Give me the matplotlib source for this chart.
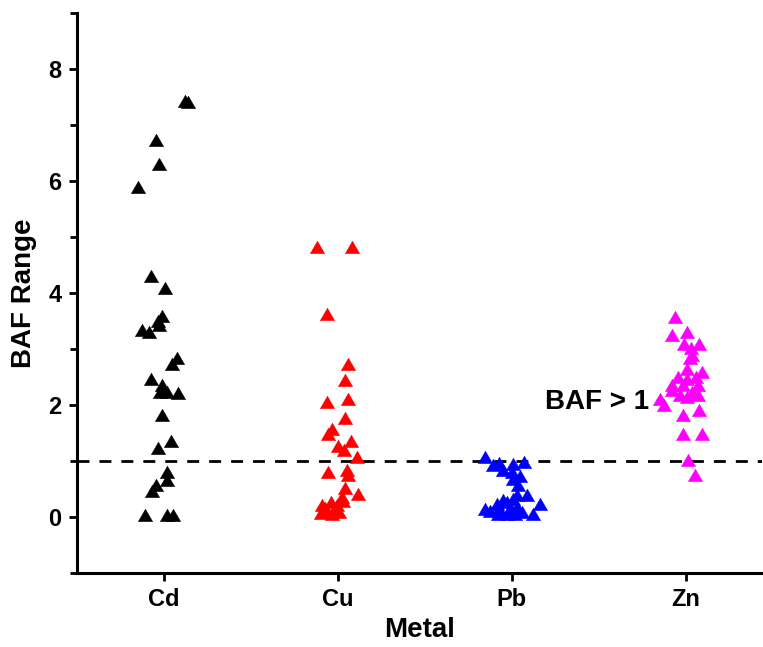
import matplotlib
matplotlib.use("Agg")
import matplotlib.pyplot as plt
from matplotlib.ticker import MultipleLocator, FixedLocator

plt.rcParams['font.family'] = ['Liberation Sans', 'DejaVu Sans']
plt.rcParams['font.weight'] = 'bold'

metals = ['Cd', 'Cu', 'Pb', 'Zn']
colors = ['black', '#ff0000', '#0000ff', '#ff00ff']

# jittered x positions and BAF values per metal
cd_x = [1.12, 1.14, 0.954, 0.971, 0.851, 0.925, 1.006, 0.989, 0.966, 0.971,
        0.874, 0.914, 1.075, 1.046, 0.925, 0.989, 0.994, 0.977, 1.017, 1.08,
        0.989, 1.04, 0.966, 1.017, 1.017, 0.954, 0.931, 0.891, 1.017, 1.052]
cd_y = [7.40, 7.38, 6.69, 6.26, 5.86, 4.26, 4.05, 3.56, 3.47, 3.39,
        3.31, 3.26, 2.80, 2.70, 2.42, 2.33, 2.25, 2.20, 2.20, 2.17,
        1.79, 1.32, 1.19, 0.76, 0.62, 0.53, 0.42, 0.0, 0.0, 0.0]

cu_x = [1.879, 2.080, 1.937, 2.057, 2.040, 2.057, 1.937, 2.040, 1.966, 1.943,
        2.075, 2.0, 2.034, 2.109, 1.943, 2.052, 2.057, 2.040, 2.115, 2.023,
        1.960, 1.908, 1.994, 1.937, 1.966, 2.006, 1.902, 1.925, 1.983, 2.03]
cu_y = [4.78, 4.78, 3.59, 2.69, 2.41, 2.07, 2.01, 1.73, 1.53, 1.44,
        1.33, 1.24, 1.16, 1.03, 0.76, 0.81, 0.72, 0.49, 0.37, 0.33,
        0.23, 0.17, 0.17, 0.08, 0.01, 0.05, 0.03, 0.12, 0.10, 0.25]

pb_x = [2.845, 2.891, 2.925, 3.006, 3.069, 2.948, 3.0, 3.046, 3.006, 3.034,
        3.086, 3.029, 3.006, 3.161, 2.845, 2.914, 2.948, 2.971, 2.925, 2.989,
        3.029, 2.920, 2.971, 3.017, 3.057, 3.121, 2.874]
pb_y = [1.03, 0.90, 0.92, 0.91, 0.94, 0.80, 0.76, 0.69, 0.64, 0.53,
        0.35, 0.35, 0.28, 0.19, 0.10, 0.19, 0.26, 0.23, 0.10, 0.10,
        0.14, 0.01, 0.01, 0.01, 0.05, 0.01, 0.08]

zn_x = [3.937, 3.925, 4.006, 3.994, 4.080, 4.034, 4.040, 4.023, 4.011, 4.092,
        3.954, 4.063, 4.011, 3.925, 4.069, 3.983, 3.920, 4.040, 3.966, 4.011,
        4.069, 3.851, 3.879, 4.075, 3.983, 3.983, 4.092, 4.017, 4.052]
zn_y = [3.53, 3.22, 3.26, 3.05, 3.05, 2.99, 2.86, 2.81, 2.60, 2.55,
        2.46, 2.46, 2.43, 2.32, 2.32, 2.33, 2.23, 2.19, 2.15, 2.10,
        2.14, 2.07, 1.96, 1.87, 1.78, 1.44, 1.45, 0.98, 0.71]

threshold = 1

fig = plt.figure(figsize=(7.63, 6.47), dpi=100)
ax = fig.add_axes([0.1009, 0.1144, 0.8978, 0.8655])

series = [(cd_x, cd_y), (cu_x, cu_y), (pb_x, pb_y), (zn_x, zn_y)]
for (xs, ys), c in zip(series, colors):
    ax.plot(xs, ys, linestyle='none', marker=(3, 0, 0), markersize=12,
            markerfacecolor=c, markeredgecolor=c, markeredgewidth=0.3, zorder=3)

ax.axhline(threshold, color='black', linewidth=2, linestyle=(0, (4.3, 3.6)), zorder=2)
ax.text(3.19, 2.05, 'BAF > 1', fontsize=20, fontweight='bold', ha='left', va='center')

ax.set_xlim(0.5, 4.44)
ax.set_ylim(-1, 9)
ax.xaxis.set_major_locator(FixedLocator([1, 2, 3, 4]))
ax.set_xticklabels(metals)
ax.yaxis.set_major_locator(MultipleLocator(2))
ax.yaxis.set_minor_locator(MultipleLocator(1))
ax.set_yticks([0, 2, 4, 6, 8])

for side in ['top', 'right']:
    ax.spines[side].set_visible(False)
for side in ['left', 'bottom']:
    ax.spines[side].set_linewidth(2.2)

ax.tick_params(axis='both', which='major', direction='out', length=6, width=2,
               labelsize=17, pad=5)
ax.tick_params(axis='y', which='minor', direction='out', length=5, width=2)

# narrow face for the tick labels
for lbl in ax.get_xticklabels() + ax.get_yticklabels():
    lbl.set_family(['Liberation Sans Narrow', 'Liberation Sans'])
    lbl.set_fontweight('bold')

ax.set_xlabel('Metal', fontsize=20, fontweight='bold', labelpad=4)
ax.set_ylabel('BAF Range', fontsize=20, fontweight='bold', labelpad=8)

fig.savefig('out.png', dpi=100)
